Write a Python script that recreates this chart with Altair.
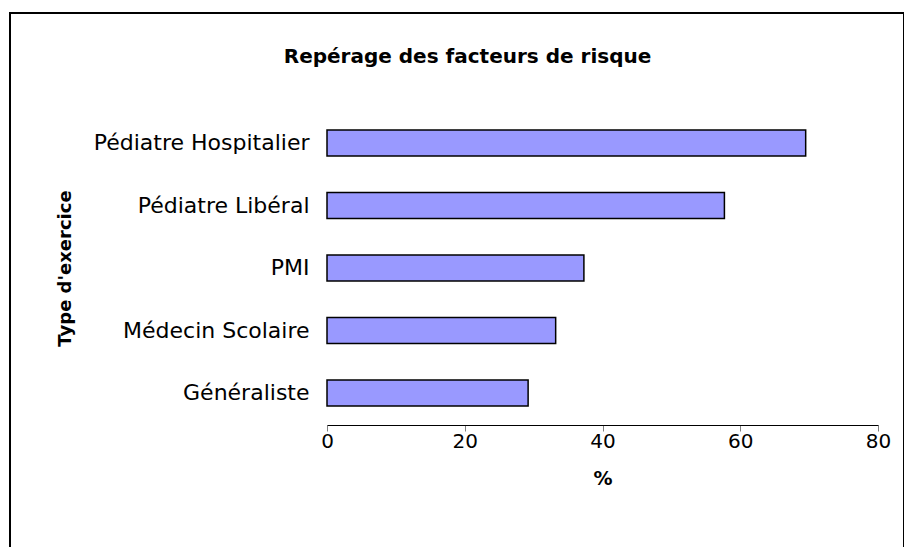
import altair as alt
import pandas as pd

categories = ["Pédiatre Hospitalier", "Pédiatre Libéral", "PMI", "Médecin Scolaire", "Généraliste"]
values = [69.5, 57.7, 37.3, 33.2, 29.2]
x_ticks = [0, 20, 40, 60, 80]

df = pd.DataFrame({"type": categories, "pct": values})

FONT = "DejaVu Sans"

bars = alt.Chart(df).mark_bar(
    color="#9999FF", stroke="#000000", strokeWidth=1.5
).encode(
    x=alt.X("pct:Q", scale=alt.Scale(domain=[0, 80], nice=False),
            axis=alt.Axis(values=x_ticks, title="%", grid=False, domainColor="#000000",
                          tickColor="#808080", tickSize=6, labelPadding=0, labelFontSize=20,
                          labelFlush=False, labelOverlap=False,
                          labelFont=FONT, labelColor="#000000", titleFont=FONT, titleFontSize=19,
                          titleFontWeight="bold", titleColor="#000000", titlePadding=18)),
    y=alt.Y("type:N", sort=categories,
            scale=alt.Scale(paddingInner=0.584, paddingOuter=0.304),
            axis=alt.Axis(title="Type d'exercice", domain=False, ticks=False, labelPadding=18,
                          labelFontSize=22, labelFont=FONT, labelColor="#000000",
                          titleFont=FONT, titleFontSize=18, titleFontWeight="bold",
                          titleColor="#000000", titlePadding=53, labelLimit=400)),
)

border = alt.Chart(df).mark_rect(fill=None, stroke="#000000", strokeWidth=2).encode(
    x=alt.value(-317), x2=alt.value(577), y=alt.value(-98), y2=alt.value(460)
)

chart = alt.layer(border, bars).properties(
    width=551, height=314,
    title=alt.Title("Repérage des facteurs de risque", font=FONT, fontSize=20, fontWeight="bold",
                    color="#000000", anchor="middle", frame="group", dx=-135,
                    baseline="alphabetic", offset=-71),
    padding={"left": 319, "top": 103, "right": 26, "bottom": 122},
    autosize="none",
).configure_view(stroke=None)

chart.save("out.html", embed_options={"renderer": "svg", "actions": False})
